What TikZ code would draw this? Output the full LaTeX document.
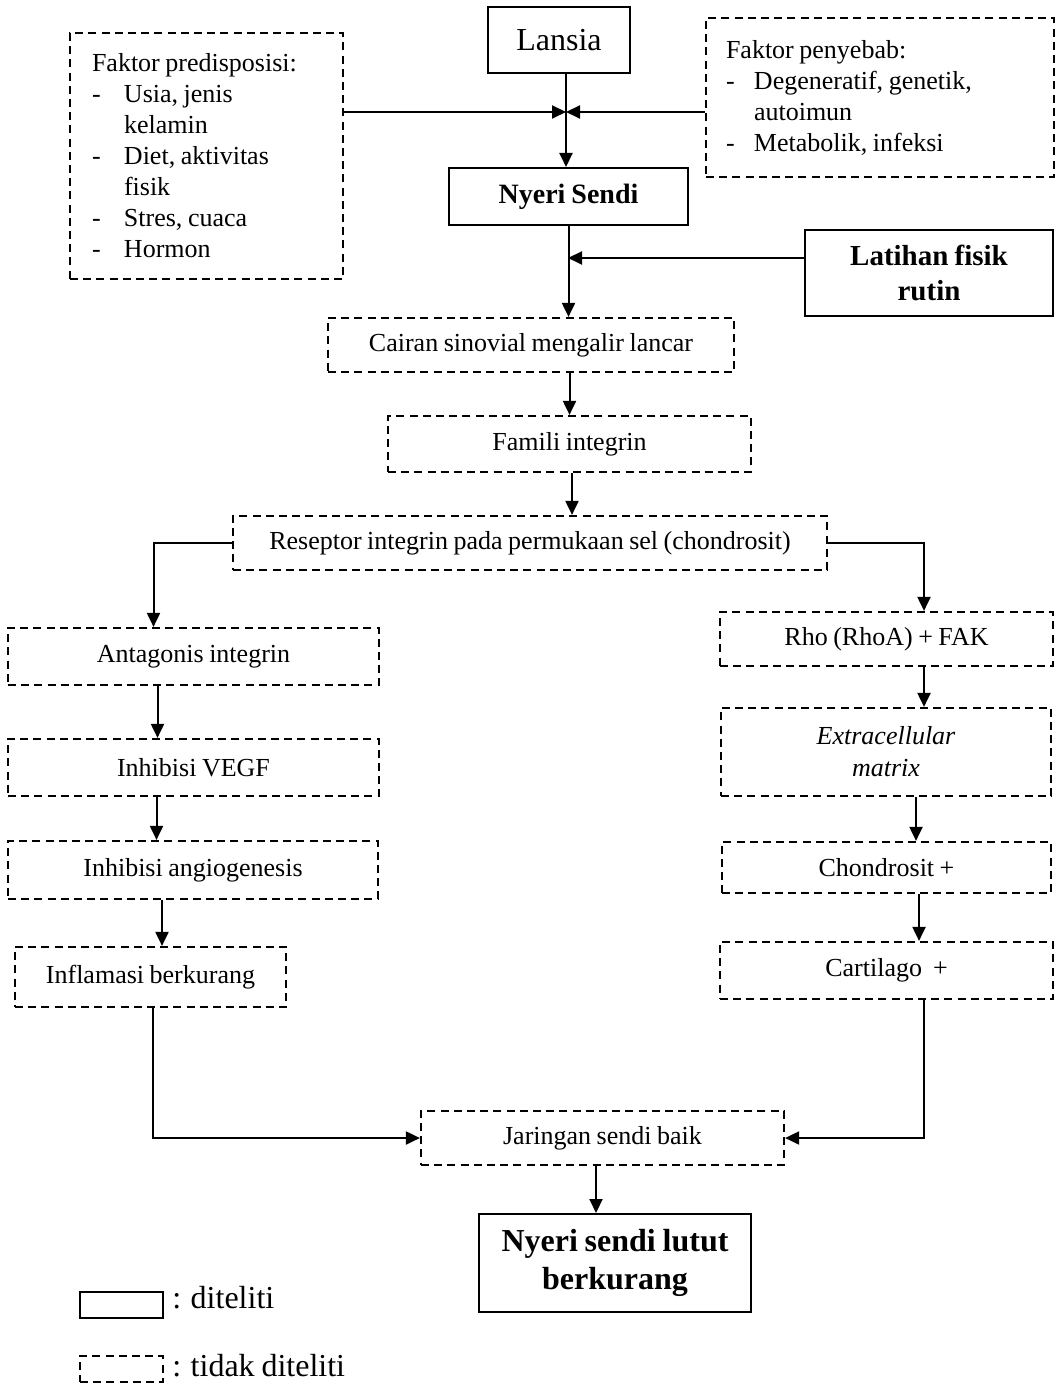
\documentclass[tikz,border=0pt]{standalone}
\usepackage{fontspec}
\setmainfont[WordSpace=0.85]{Liberation Serif}
\usetikzlibrary{arrows.meta}
\newcommand{\dashitem}[2][16pt]{\makebox[#1][l]{-}#2}

\begin{document}
\begin{tikzpicture}[
  x=0.5pt, y=-0.5pt,
  every node/.style={
    align=center,
    inner sep=0pt,
    font=\fontsize{13}{15.5}\selectfont
  },
  solidbox/.style={draw, line width=1pt},
  dashbox/.style={draw, line width=1.1pt, dash pattern=on 4pt off 2.6pt},
  arr/.style={line width=1pt, -{Triangle[length=7pt,width=6.5pt]}}
]
\useasboundingbox (0,0) rectangle (1056,1384);

\node[solidbox, minimum width=71pt, minimum height=33pt, font=\fontsize{16}{19}\selectfont] (lansia) at (559,40) {Lansia};
\node[dashbox, minimum width=136.5pt, minimum height=123pt, text width=114.5pt, align=flush left, inner xsep=11pt] (predis) at (206.5,156)
  {Faktor predisposisi:\\ \dashitem{Usia, jenis}\\ \hspace*{16pt}kelamin\\ \dashitem{Diet, aktivitas}\\ \hspace*{16pt}fisik\\ \dashitem{Stres, cuaca}\\ \dashitem{Hormon}};
\node[dashbox, minimum width=174pt, minimum height=79.5pt, text width=154pt, align=flush left, inner xsep=10pt] (penyebab) at (880,97.5)
  {Faktor penyebab:\\ \dashitem[14pt]{Degeneratif, genetik,}\\ \hspace*{14pt}autoimun\\ \dashitem[14pt]{Metabolik, infeksi}\\[8pt]};
\node[solidbox, minimum width=119.5pt, minimum height=28.5pt, font=\bfseries\fontsize{14}{17}\selectfont] (nyeri) at (568.5,196.5) {Nyeri Sendi};
\node[solidbox, minimum width=124pt, minimum height=43pt, font=\bfseries\fontsize{14.5}{17.5}\selectfont] (latihan) at (929,273) {Latihan fisik\\ rutin};
\node[dashbox, minimum width=203pt, minimum height=27pt] (cairan) at (531,345) {Cairan sinovial mengalir lancar};
\node[dashbox, minimum width=181.5pt, minimum height=28pt] (famili) at (569.5,444) {Famili integrin};
\node[dashbox, minimum width=297pt, minimum height=27pt] (reseptor) at (530,543) {Reseptor integrin pada permukaan sel (chondrosit)};
\node[dashbox, minimum width=185.5pt, minimum height=28.5pt] (antagonis) at (193.5,656.5) {Antagonis integrin};
\node[dashbox, minimum width=185.5pt, minimum height=28.5pt] (vegf) at (193.5,767.5) {Inhibisi VEGF};
\node[dashbox, minimum width=185pt, minimum height=29pt] (angio) at (193,870) {Inhibisi angiogenesis};
\node[dashbox, minimum width=135.5pt, minimum height=30pt] (inflamasi) at (150.5,977) {Inflamasi berkurang};
\node[dashbox, minimum width=166.5pt, minimum height=27pt] (rho) at (886.5,639) {Rho (RhoA) + FAK};
\node[dashbox, minimum width=165pt, minimum height=44pt, font=\itshape\fontsize{13}{16}\selectfont] (matrix) at (886,752) {Extracellular\\ matrix};
\node[dashbox, minimum width=164.5pt, minimum height=25.5pt] (chondrosit) at (886.5,867.5) {Chondrosit +};
\node[dashbox, minimum width=166.5pt, minimum height=28.5pt] (cartilago) at (886.5,970.5) {Cartilago~~+};
\node[dashbox, minimum width=181.5pt, minimum height=27pt] (jaringan) at (602.5,1138) {Jaringan sendi baik};
\node[solidbox, minimum width=136pt, minimum height=49pt, font=\bfseries\fontsize{16}{19}\selectfont] (lutut) at (615,1263) {Nyeri sendi lutut\\ berkurang};

\node[solidbox, minimum width=41.5pt, minimum height=13pt] (legsolid) at (121.5,1305) {};
\node[anchor=west, font=\fontsize{16}{19}\selectfont] (legsolidtxt) at (172,1298) {: diteliti};
\node[dashbox, minimum width=41.5pt, minimum height=13pt] (legdash) at (121.5,1369) {};
\node[anchor=west, font=\fontsize{16}{19}\selectfont] (legdashtxt) at (172,1366) {: tidak diteliti};

\coordinate (junc) at (566,112);
\coordinate (lat) at (568,258);

\draw[arr] (lansia.south -| junc) -- (junc |- nyeri.north);
\draw[arr] (predis.east |- junc) -- (junc);
\draw[arr] (penyebab.west |- junc) -- (junc);
\draw[arr] (nyeri.south) -- (nyeri.south |- cairan.north);
\draw[arr] (latihan.west |- lat) -- (lat);
\draw[arr] (cairan.south -| famili.north) -- (famili.north);
\draw[arr] ([xshift=1.25pt]famili.south) -- ([xshift=1.25pt]famili.south |- reseptor.north);
\draw[arr] (reseptor.west) -| ([xshift=-20pt]antagonis.north);
\draw[arr] (reseptor.east) -| ([xshift=18.75pt]rho.north);
\draw[arr] ([xshift=-18pt]antagonis.south) -- ([xshift=-18pt]vegf.north);
\draw[arr] ([xshift=-18.5pt]vegf.south) -- ([xshift=-18.5pt]vegf.south |- angio.north);
\draw[arr] ([xshift=-15.5pt]angio.south) -- ([xshift=-15.5pt]angio.south |- inflamasi.north);
\draw[arr] ([xshift=18.75pt]rho.south) -- ([xshift=18.75pt]rho.south |- matrix.north);
\draw[arr] ([xshift=15pt]matrix.south) -- ([xshift=15pt]matrix.south |- chondrosit.north);
\draw[arr] ([xshift=16.25pt]chondrosit.south) -- ([xshift=16.25pt]chondrosit.south |- cartilago.north);
\draw[arr] ([xshift=1.25pt]inflamasi.south) |- (jaringan.west);
\draw[arr] ([xshift=18.75pt]cartilago.south) |- (jaringan.east);
\draw[arr] ([xshift=-3.25pt]jaringan.south) -- ([xshift=-3.25pt]jaringan.south |- lutut.north);
\end{tikzpicture}
\end{document}
